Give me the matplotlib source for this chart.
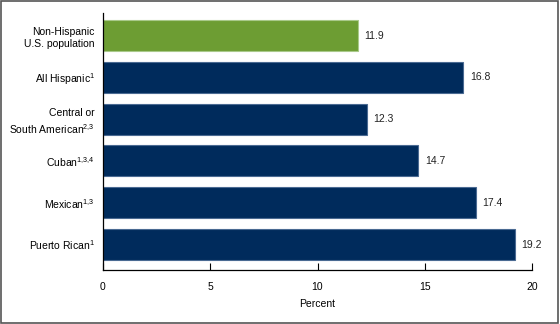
import matplotlib.pyplot as plt
from matplotlib.patches import Rectangle

plt.rcParams['font.family'] = ['Liberation Sans', 'DejaVu Sans']
plt.rcParams['mathtext.default'] = 'regular'

# groups, top to bottom
labels = ['Non-Hispanic\nU.S. population', 'All Hispanic$^{1}$',
          'Central or\nSouth American$^{2{,}3}$', 'Cuban$^{1{,}3{,}4}$',
          'Mexican$^{1{,}3}$', 'Puerto Rican$^{1}$']
values = [11.9, 16.8, 12.3, 14.7, 17.4, 19.2]
colors = ['#6d9d33', '#002b5c', '#002b5c', '#002b5c', '#002b5c', '#002b5c']
edges = ['#a9c98a', '#4a6a92', '#4a6a92', '#4a6a92', '#4a6a92', '#4a6a92']

fig = plt.figure(figsize=(5.6, 3.24), dpi=100)
ax = fig.add_axes([103/560, 54/324, 429/560, 257/324])

ypos = list(range(len(values)))
ax.barh(ypos, values, height=0.74, color=colors, edgecolor=edges, linewidth=0.8)
for y, v in zip(ypos, values):
    ax.text(v + 0.3, y, f'{v}', va='center', ha='left', fontsize=7.5, color='#222222')

ax.set_yticks(ypos)
ax.set_yticklabels(labels, fontsize=7.5, ha='right', linespacing=1.35)
ax.set_ylim(len(values) - 1 + 0.61, -0.54)
ax.set_xlim(0, 20)
ax.set_xticks([0, 5, 10, 15, 20])
ax.tick_params(axis='x', direction='in', length=5, labelsize=7.5, pad=9, width=0.8)
ax.tick_params(axis='y', length=0, pad=6)
ax.set_xlabel('Percent', fontsize=7.5, labelpad=5)

for s in ['top', 'right']:
    ax.spines[s].set_visible(False)
for s in ['left', 'bottom']:
    ax.spines[s].set_linewidth(0.9)

# outer frame
fig.patches.append(Rectangle((0.002, 0.003), 0.995, 0.993, transform=fig.transFigure,
                             fill=False, edgecolor='#555555', linewidth=1.2))

fig.savefig('out.png', dpi=100)
